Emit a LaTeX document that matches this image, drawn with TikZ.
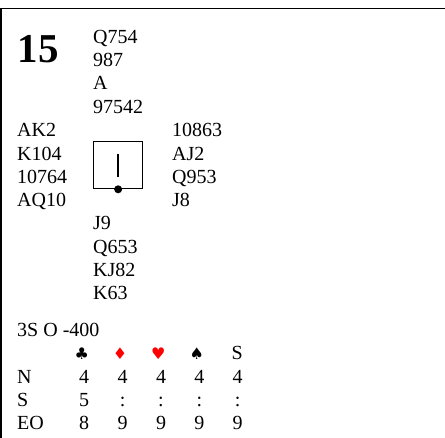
\documentclass[tikz,border=0pt]{standalone}
\usepackage{fontspec}
\setmainfont{Liberation Serif}
\newfontfamily\suitfont{DejaVu Sans}
\definecolor{suitred}{RGB}{255,0,0}
\newcommand*{\LineSkip}{23.33}

\tikzset{
  card/.style={anchor=base west, inner sep=0pt, font=\fontsize{20}{23}\selectfont},
  score/.style={anchor=base, inner sep=0pt, font=\fontsize{20}{23}\selectfont},
  suit/.style={anchor=base, inner sep=0pt, font=\suitfont\fontsize{16}{18}\selectfont},
}

\begin{document}
\begin{tikzpicture}[x=1pt, y=-1pt]
            \useasboundingbox (0,0) rectangle (445,438);
            \draw[line width=1.2pt] (1,438) |- (445,8.7);
            \node[anchor=base west, inner sep=0pt, font=\fontsize{41}{46}\bfseries] (board) at (17.5,62.7) {15};
            % hands
            \foreach \c [count=\i] in {Q754,987,A,97542}
              \node[card] (north\i) at (93,{43.3+\LineSkip*(\i-1)}) {\c};
            \foreach \c [count=\i] in {AK2,K104,10764,AQ10}
              \node[card] (west\i) at (17,{136.7+\LineSkip*(\i-1)}) {\c};
            \foreach \c [count=\i] in {10863,AJ2,Q953,J8}
              \node[card] (east\i) at (172,{136.7+\LineSkip*(\i-1)}) {\c};
            \foreach \c [count=\i] in {J9,Q653,KJ82,K63}
              \node[card] (south\i) at (93,{230+\LineSkip*(\i-1)}) {\c};
            % table with dealer
            \node[draw, line width=1pt, anchor=north west, inner sep=0pt,
                  minimum width=48.7pt, minimum height=47pt] (table) at (93.3,141.3) {};
            \draw[line width=2pt] ([yshift=-13pt]table.north) -- ([yshift=12.3pt]table.south);
            \fill (table.south) circle (4pt);
            % result
            \node[card] (contract) at (17,336.7) {3S O -400};
            \node[suit] (clubs) at (81.7,360) {♣};
            \node[suit, text=suitred] (diamonds) at (120,360) {♦};
            \node[suit, text=suitred] (hearts) at (158.3,360) {♥};
            \node[suit] (spades) at (196.7,360) {♠};
            \node[score] (notrump) at (237.3,360) {S};
            \foreach \lab/\yy/\a/\b/\c/\d/\e in {N/383.3/4/4/4/4/4, S/406.7/5/:/:/:/:, EO/430/8/9/9/9/9}{
              \node[card] (row\lab) at (17,\yy) {\lab};
              \node[score] (\lab-1) at (84,\yy) {\a};
              \node[score] (\lab-2) at (122.7,\yy) {\b};
              \node[score] (\lab-3) at (161,\yy) {\c};
              \node[score] (\lab-4) at (199.3,\yy) {\d};
              \node[score] (\lab-5) at (237.7,\yy) {\e};
            }
          \end{tikzpicture}
\end{document}
